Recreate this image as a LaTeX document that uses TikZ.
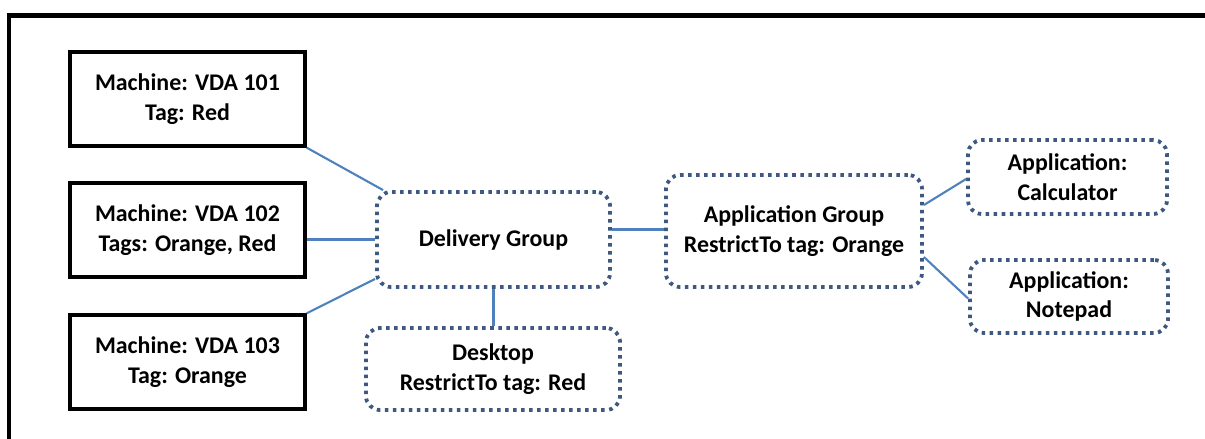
\documentclass[tikz,border=0pt]{standalone}
\usepackage{fontspec}
\setmainfont{Carlito}
\definecolor{frameblue}{RGB}{62,88,128}
\definecolor{linkblue}{RGB}{79,129,189}
\usetikzlibrary{positioning}

\begin{document}
\begin{tikzpicture}[x=0.025cm, y=-0.025cm,
    every node/.style={font=\fontsize{17}{21}\selectfont\bfseries, align=center, inner sep=0pt},
    machine/.style={draw=black, line width=2.3pt, minimum width=5.875cm, minimum height=2.35cm},
    grp/.style={draw=frameblue, line width=2.7pt, dash pattern=on 2.5pt off 3.2pt, rounded corners=10pt},
    link/.style={draw=linkblue, line width=1.5pt}]
          \useasboundingbox (0,0) rectangle (1205,439);
          \draw[line width=3.1pt] (9,460) -- (9,15.5) -- (1230,15.5);
          \node[machine] (vda1) at (187.5,99) {Machine: VDA 101\\Tag: Red};
          \node[machine] (vda2) at (187.5,230) {Machine: VDA 102\\Tags: Orange, Red};
          \node[machine] (vda3) at (187.5,362) {Machine: VDA 103\\Tag: Orange};
          \node[grp, minimum width=5.825cm, minimum height=2.375cm] (dgroup) at (493.5,239.5) {Delivery Group};
          \node[grp, minimum width=6.35cm, minimum height=2.05cm] (desk) at (493,369) {Desktop\\RestrictTo tag: Red};
          \node[grp, minimum width=6.4cm, minimum height=2.8cm] (agroup) at (794,231) {Application Group\\RestrictTo tag: Orange};
          \node[grp, minimum width=4.975cm, minimum height=1.85cm] (calc) at (1067.5,177) {Application:\\Calculator};
          \node[grp, minimum width=4.95cm, minimum height=1.825cm] (note) at (1069,296.5) {Application:\\Notepad};
          \draw[link] (vda1.south east) -- ([xshift=0.2cm]dgroup.north west);
          \draw[link] (vda2.east |- dgroup.west) -- (dgroup.west);
          \draw[link] (vda3.north east) -- ([yshift=0.25cm]dgroup.south west);
          \draw[link] (dgroup.south) -- (desk.north -| dgroup.south);
          \draw[link] ([yshift=0.25cm]dgroup.east) -- ([yshift=0.25cm]dgroup.east -| agroup.west);
          \draw[link] ([yshift=0.65cm]agroup.east) -- ([yshift=-0.05cm]calc.west);
          \draw[link] ([yshift=-0.65cm]agroup.east) -- ([yshift=-0.05cm]note.west);
        \end{tikzpicture}
\end{document}
